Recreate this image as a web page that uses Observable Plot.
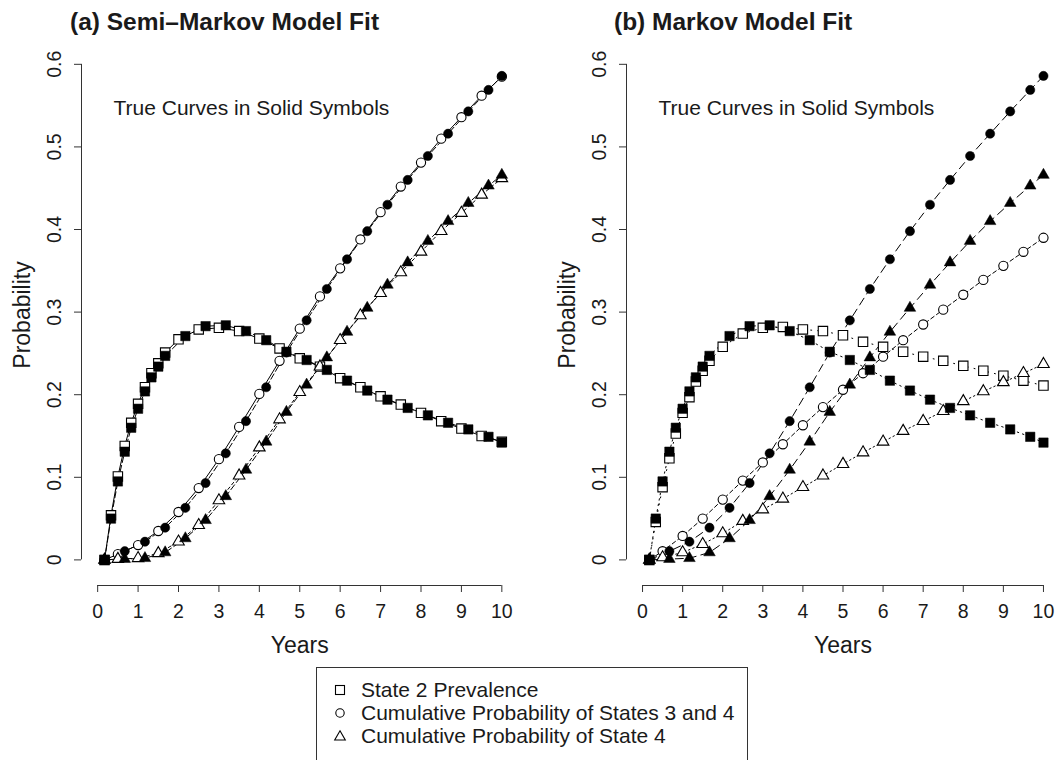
<!DOCTYPE html>
<html><head><meta charset="utf-8">
<script src="https://cdn.jsdelivr.net/npm/d3@7"></script>
<script src="https://cdn.jsdelivr.net/npm/@observablehq/plot@0.6"></script>
<style>
body{margin:0;background:#fff;font-family:"Liberation Sans",Arial,Helvetica,sans-serif;color:#1a1a1a;}
#page{position:relative;width:1059px;height:760px;overflow:hidden;background:#fff;}
.title{position:absolute;top:9px;font-weight:bold;font-size:24.5px;line-height:25px;white-space:nowrap;}
.panel{position:absolute;top:40px;}
#legend{position:absolute;left:316px;top:667px;width:432px;height:110px;border:1px solid #333;box-sizing:border-box;}
.row{position:absolute;left:0;height:23px;display:flex;align-items:center;font-size:21px;white-space:nowrap;}
.row svg{margin-left:16px;margin-right:14px;}
</style></head>
<body><div id="page">
<div class="title" style="left:70px">(a) Semi–Markov Model Fit</div>
<div class="title" style="left:614px">(b) Markov Model Fit</div>
<div class="panel" id="pa" style="left:0px"></div>
<div class="panel" id="pb" style="left:529px"></div>
<div id="legend"></div>
</div>
<script>
// ---- data (years, probabilities) ----
const tTrueSq = [0.17,0.33,0.5,0.67,0.83,1.0,1.17,1.33,1.5,1.67,2.17,2.67,3.17,3.67,4.17,4.67,5.17,5.67,6.17,6.67,7.17,7.67,8.17,8.67,9.17,9.67,10];
const tFitSq  = [0.17,0.33,0.5,0.67,0.83,1.0,1.17,1.33,1.5,1.67,2.0,2.5,3.0,3.5,4.0,4.5,5.0,5.5,6.0,6.5,7.0,7.5,8.0,8.5,9.0,9.5,10];
const tTrue   = [0.17,0.67,1.17,1.67,2.17,2.67,3.17,3.67,4.17,4.67,5.17,5.67,6.17,6.67,7.17,7.67,8.17,8.67,9.17,9.67,10];
const tFit    = [0.17,0.5,1.0,1.5,2.0,2.5,3.0,3.5,4.0,4.5,5.0,5.5,6.0,6.5,7.0,7.5,8.0,8.5,9.0,9.5,10];

// true curves (solid symbols), same in both panels
const trueState2 = [0,0.050,0.095,0.131,0.160,0.183,0.204,0.221,0.234,0.247,0.271,0.283,0.284,0.277,0.266,0.252,0.242,0.230,0.217,0.205,0.194,0.184,0.175,0.166,0.158,0.149,0.142];
const trueStates34 = [0,0.0105,0.022,0.039,0.063,0.093,0.129,0.168,0.209,0.251,0.290,0.328,0.364,0.398,0.430,0.460,0.489,0.516,0.543,0.569,0.586];
const trueState4 = [0,0.001,0.002,0.009,0.026,0.048,0.077,0.109,0.143,0.179,0.212,0.245,0.276,0.305,0.333,0.360,0.386,0.410,0.432,0.453,0.466];

// (a) semi-Markov fit (open symbols)
const semiState2 = [0,0.054,0.101,0.138,0.166,0.189,0.209,0.226,0.238,0.251,0.267,0.279,0.281,0.277,0.268,0.256,0.244,0.234,0.220,0.209,0.198,0.188,0.178,0.168,0.159,0.150,0.143];
const semiStates34 = [0,0.007,0.018,0.035,0.058,0.087,0.122,0.161,0.201,0.241,0.280,0.319,0.353,0.388,0.421,0.452,0.481,0.510,0.536,0.562,0.585];
const semiState4 = [0,0.001,0.002,0.008,0.022,0.042,0.072,0.102,0.136,0.170,0.203,0.234,0.266,0.296,0.323,0.348,0.373,0.398,0.420,0.442,0.462];

// (b) Markov fit (open symbols)
const markovState2 = [0,0.046,0.088,0.123,0.153,0.178,0.197,0.216,0.229,0.241,0.258,0.274,0.281,0.282,0.279,0.277,0.272,0.264,0.258,0.252,0.246,0.241,0.235,0.229,0.223,0.217,0.211];
const markovStates34 = [0,0.0105,0.029,0.050,0.073,0.096,0.118,0.140,0.163,0.185,0.206,0.226,0.246,0.266,0.285,0.303,0.321,0.339,0.356,0.373,0.390];
const markovState4 = [0,0.003,0.009,0.019,0.032,0.047,0.061,0.074,0.088,0.102,0.116,0.130,0.143,0.156,0.168,0.180,0.192,0.204,0.215,0.226,0.237];

const xTicks = [0,1,2,3,4,5,6,7,8,9,10];
const yTicks = [0,0.1,0.2,0.3,0.4,0.5,0.6];
const yTickLabels = ["0","0.1","0.2","0.3","0.4","0.5","0.6"];
const legendLabels = ["State 2 Prevalence","Cumulative Probability of States 3 and 4","Cumulative Probability of State 4"];
const noteText = "True Curves in Solid Symbols";

// ---- drawing ----
const FONT = "Liberation Sans, Arial, Helvetica, sans-serif";
const INK = "#1a1a1a";
const rows = (ts, vs) => ts.map((t, i) => ({t, v: vs[i]}));
const SYM = {square: {symbol: "square", r: 5.3}, circle: {symbol: "circle", r: 4.6}, triangle: {symbol: "triangle", r: 4.3}};

function panel(fit, styles, width, marginLeft, marginRight) {
  const series = [
    {shape: "square", tr: rows(tTrueSq, trueState2), ft: rows(tFitSq, fit[0]), st: styles[0]},
    {shape: "circle", tr: rows(tTrue, trueStates34), ft: rows(tFit, fit[1]), st: styles[1]},
    {shape: "triangle", tr: rows(tTrue, trueState4), ft: rows(tFit, fit[2]), st: styles[2]}
  ];
  const yMin = -0.031;
  const marks = [
    Plot.ruleX([-0.4], {y1: 0, y2: 0.6, stroke: "#333"}),
    Plot.ruleY([yMin], {x1: 0, x2: 10, stroke: "#333"}),
    Plot.axisX(xTicks, {tickSize: 7, tickFormat: () => "", label: null, stroke: "#333"}),
    Plot.axisY(yTicks, {tickSize: 7, tickFormat: () => "", label: null, stroke: "#333"}),
    Plot.text(xTicks, {x: d => d, text: d => String(d), frameAnchor: "bottom", lineAnchor: "middle", textAnchor: "middle", dy: 26, fontSize: 19.5, fill: INK}),
    Plot.text(yTicks, {y: d => d, text: (d, i) => yTickLabels[i], frameAnchor: "left", textAnchor: "middle", lineAnchor: "middle", dx: -27, rotate: -90, fontSize: 19.5, fill: INK}),
    Plot.text(["Probability"], {frameAnchor: "left", textAnchor: "middle", lineAnchor: "middle", dx: -59, rotate: -90, fontSize: 23, fill: INK}),
    Plot.text(["Years"], {frameAnchor: "bottom", textAnchor: "middle", lineAnchor: "middle", dy: 60, fontSize: 23, fill: INK}),
    Plot.text([noteText], {frameAnchor: "top-left", textAnchor: "start", lineAnchor: "middle", dx: 32, dy: 64, fontSize: 21, fill: INK})
  ];
  for (const s of series) {
    marks.push(Plot.line(s.tr, {x: "t", y: "v", stroke: "black", strokeWidth: 1, strokeDasharray: s.st.trueDash}));
    marks.push(Plot.line(s.ft, {x: "t", y: "v", stroke: "black", strokeWidth: 1, strokeDasharray: s.st.fitDash}));
  }
  for (const s of series) {
    marks.push(Plot.dot(s.ft, {x: "t", y: "v", ...SYM[s.shape], fill: "white", stroke: "black", strokeWidth: 1.1}));
  }
  for (const s of series) {
    marks.push(Plot.dot(s.tr, {x: "t", y: "v", ...SYM[s.shape], fill: "black", stroke: "black", strokeWidth: 0.5}));
  }
  return Plot.plot({
    width, height: 620, marginLeft, marginRight, marginTop: 4, marginBottom: 75,
    x: {domain: [-0.4, 10.4]},
    y: {domain: [yMin, 0.624]},
    style: {fontFamily: FONT, fontSize: "19px", background: "white", overflow: "visible"},
    marks
  });
}

const stylesA = [
  {trueDash: "6,3", fitDash: null},
  {trueDash: "6,3", fitDash: null},
  {trueDash: "6,3", fitDash: "3,3"}
];
const stylesB = [
  {trueDash: "1.5,4", fitDash: "1,6"},
  {trueDash: "8,5", fitDash: "4,3"},
  {trueDash: "8,5", fitDash: "1.5,3"}
];

document.getElementById("pa").appendChild(panel([semiState2, semiStates34, semiState4], stylesA, 529, 81, 11.5));
document.getElementById("pb").appendChild(panel([markovState2, markovStates34, markovState4], stylesB, 530, 97, 0));

// legend
const legendShapes = [
  '<rect x="2.5" y="2.5" width="9" height="9" fill="white" stroke="black" stroke-width="1.1"/>',
  '<circle cx="7" cy="7" r="4.2" fill="white" stroke="black" stroke-width="1.1"/>',
  '<path d="M7,1.8 L12.3,11 L1.7,11 Z" fill="white" stroke="black" stroke-width="1.1"/>'
];
const lg = document.getElementById("legend");
legendLabels.forEach((lab, i) => {
  const r = document.createElement("div");
  r.className = "row";
  r.style.top = (10 + i * 23) + "px";
  r.innerHTML = '<svg width="14" height="14">' + legendShapes[i] + '</svg><span>' + lab + '</span>';
  lg.appendChild(r);
});
</script>
</body></html>
